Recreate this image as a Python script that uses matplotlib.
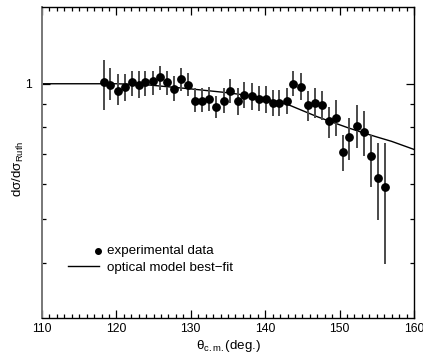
import matplotlib
matplotlib.use("Agg")
import matplotlib.pyplot as plt
from matplotlib.ticker import FixedLocator, NullFormatter, FixedFormatter, MultipleLocator
import numpy as np

plt.rcParams['font.family'] = ['Liberation Sans', 'DejaVu Sans']
plt.rcParams['mathtext.fontset'] = 'custom'
plt.rcParams['mathtext.rm'] = 'Liberation Sans'
plt.rcParams['mathtext.it'] = 'Liberation Sans:italic'

# experimental data: angle (deg), ratio, upper and lower error-bar ends
angle = [118.3, 119.2, 120.2, 121.1, 122.1, 123.0, 123.9, 124.9, 125.8, 126.8,
         127.7, 128.7, 129.6, 130.6, 131.5, 132.5, 133.4, 134.4, 135.3, 136.3,
         137.2, 138.2, 139.1, 140.1, 141.0, 141.9, 142.9, 143.8, 144.8, 145.7,
         146.7, 147.6, 148.6, 149.5, 150.4, 151.3, 152.3, 153.3, 154.2, 155.2,
         156.1]
ratio = [1.007, 0.995, 0.965, 0.983, 1.007, 0.995, 1.007, 1.015, 1.035, 1.007,
         0.973, 1.024, 0.993, 0.917, 0.917, 0.926, 0.887, 0.917, 0.965, 0.917,
         0.945, 0.937, 0.926, 0.926, 0.906, 0.906, 0.917, 0.998, 0.986, 0.898,
         0.906, 0.898, 0.827, 0.839, 0.707, 0.760, 0.807, 0.780, 0.690, 0.619,
         0.591]
err_hi = [1.129, 1.083, 1.052, 1.052, 1.065, 1.065, 1.070, 1.070, 1.096, 1.070,
          1.042, 1.083, 1.056, 0.978, 0.978, 0.986, 0.937, 0.978, 1.024, 0.978,
          1.007, 1.003, 0.990, 0.990, 0.970, 0.970, 0.978, 1.065, 1.056, 0.962,
          0.978, 0.962, 0.890, 0.921, 0.770, 0.839, 0.898, 0.868, 0.770, 0.738,
          0.738]
err_lo = [0.875, 0.921, 0.898, 0.914, 0.937, 0.929, 0.937, 0.945, 0.970, 0.945,
          0.914, 0.966, 0.937, 0.864, 0.864, 0.868, 0.839, 0.861, 0.906, 0.853,
          0.883, 0.875, 0.868, 0.861, 0.846, 0.846, 0.858, 0.937, 0.921, 0.825,
          0.839, 0.832, 0.757, 0.764, 0.639, 0.678, 0.719, 0.690, 0.591, 0.499,
          0.399]

# optical model best-fit curve
fit_angle = [110, 120, 124, 126, 130, 135, 139, 143, 145, 147, 149, 151, 153,
             155, 157, 160]
fit_ratio = [1.0, 1.0, 0.995, 0.988, 0.974, 0.955, 0.935, 0.900, 0.872, 0.845,
             0.822, 0.800, 0.780, 0.762, 0.745, 0.715]

x_ticks = [110, 120, 130, 140, 150, 160]
y_minor = [0.4, 0.5, 0.6, 0.7, 0.8, 0.9]

fig = plt.figure(figsize=(4.23, 3.56), dpi=100)
ax = fig.add_axes([42/423, 1 - 317.5/356, 372/423, 310.5/356])

ax.plot(fit_angle, fit_ratio, color='black', lw=1.0, zorder=2)

a = np.array(angle); r = np.array(ratio)
yerr = np.vstack([r - np.array(err_lo), np.array(err_hi) - r])
ax.errorbar(a, r, yerr=yerr, fmt='none', ecolor='#4a4a4a', elinewidth=1.4,
            capsize=0, zorder=3)
ax.plot(a, r, 'o', color='black', ms=5.3, zorder=4)

ax.set_yscale('log')
ax.set_xlim(110, 160)
ax.set_ylim(0.303, 1.48)

ax.xaxis.set_major_locator(FixedLocator(x_ticks))
ax.xaxis.set_minor_locator(MultipleLocator(1))
ax.yaxis.set_major_locator(FixedLocator([1.0]))
ax.yaxis.set_major_formatter(FixedFormatter(['1']))
ax.yaxis.set_minor_locator(FixedLocator(y_minor))
ax.yaxis.set_minor_formatter(NullFormatter())

ax.tick_params(which='both', direction='in', top=True, right=True,
               labelsize=8.8, width=0.9)
ax.tick_params(which='major', length=6)
ax.tick_params(which='minor', length=3)
ax.tick_params(axis='x', pad=4)
ax.tick_params(axis='y', pad=7)

for s in ax.spines.values():
    s.set_linewidth(1.0)
ax.spines['left'].set_color('#777777')
ax.spines['left'].set_linewidth(1.4)

ax.set_xlabel(r'θ$_{\mathrm{c.m.}}$(deg.)', fontsize=9.6, labelpad=2)
ax.set_ylabel(r'dσ/dσ$_{\mathrm{Ruth}}$', fontsize=9.6)
ax.yaxis.set_label_coords(-0.042, 0.48)

# legend
ax.plot([0.1505], [0.213], 'o', color='black', ms=4, transform=ax.transAxes,
        clip_on=False)
ax.plot([0.0699, 0.153], [0.165, 0.165], color='black', lw=1.0,
        transform=ax.transAxes)
ax.text(0.1747, 0.213, 'experimental data', transform=ax.transAxes,
        fontsize=9.6, va='center', ha='left')
ax.text(0.1747, 0.160, 'optical model best\u2212fit', transform=ax.transAxes,
        fontsize=9.6, va='center', ha='left')

fig.savefig('out.png', dpi=100)
